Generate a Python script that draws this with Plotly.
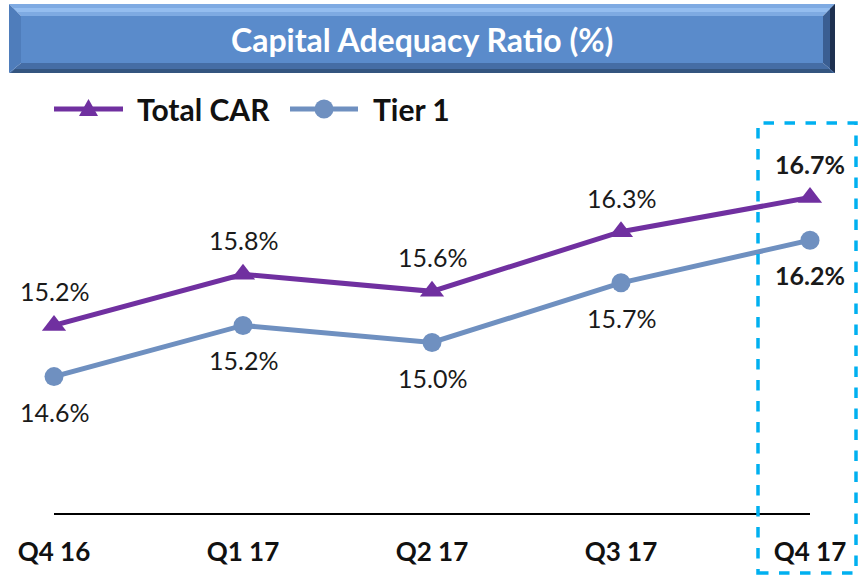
import plotly.graph_objects as go

# ---- data ----
quarters = ["Q4 16", "Q1 17", "Q2 17", "Q3 17", "Q4 17"]
total_car = [15.2, 15.8, 15.6, 16.3, 16.7]
tier1 = [14.6, 15.2, 15.0, 15.7, 16.2]
title_text = "Capital Adequacy Ratio (%)"
series_names = ["Total CAR", "Tier 1"]

# ---- layout helpers (pixel -> paper) ----
W, H = 860, 577
L, R, T, B = 54, 50, 172, 64
pw = W - L - R
ph = H - T - B


def px(x):
    return (x - L) / pw


def py(y):
    return (H - B - y) / ph


PURPLE = "#7030A0"
STEEL = "#6F90C0"
FONT = "Lato"

fig = go.Figure()
fig.add_trace(go.Scatter(
    x=quarters, y=total_car, name=series_names[0], mode="lines+markers",
    line=dict(color=PURPLE, width=5),
    marker=dict(symbol="triangle-up", size=21, color=PURPLE),
    cliponaxis=False, showlegend=False,
))
fig.add_trace(go.Scatter(
    x=quarters, y=tier1, name=series_names[1], mode="lines+markers",
    line=dict(color=STEEL, width=5),
    marker=dict(symbol="circle", size=19, color=STEEL),
    cliponaxis=False, showlegend=False,
))

annotations = []
n = len(quarters)
for i, (q, v) in enumerate(zip(quarters, total_car)):
    t = f"{v:.1f}%"
    if i == n - 1:
        t = f"<b>{t}</b>"
    annotations.append(dict(x=q, y=v, xref="x", yref="y", text=t, showarrow=False,
                            yshift=34, font=dict(family=FONT, size=25, color="#1a1a1a")))
for i, (q, v) in enumerate(zip(quarters, tier1)):
    t = f"{v:.1f}%"
    if i == n - 1:
        t = f"<b>{t}</b>"
    annotations.append(dict(x=q, y=v, xref="x", yref="y", text=t, showarrow=False,
                            yshift=-35, font=dict(family=FONT, size=25, color="#1a1a1a")))

# title text
annotations.append(dict(x=px(422), y=py(40), xref="paper", yref="paper", text=title_text,
                        showarrow=False, xanchor="center", yanchor="middle",
                        font=dict(family=FONT, size=32, color="white", weight="bold")))

# ---- title bar bevel shapes ----
x0, x1, y0, y1, b = 9, 835, 4, 73, 12


def path(pts):
    s = "M " + " L ".join(f"{px(a):.5f},{py(c):.5f}" for a, c in pts) + " Z"
    return s


def poly(pts, col):
    return dict(type="path", xref="paper", yref="paper", line=dict(width=0),
                fillcolor=col, path=path(pts))


shapes = [
    # top bevel (light, two bands)
    poly([(x0, y0), (x1, y0), (x1 - b, y0 + b), (x0 + b, y0 + b)], "#7EAAE2"),
    poly([(x0 + 4, y0 + 4), (x1 - 4, y0 + 4), (x1 - 8, y0 + 8), (x0 + 8, y0 + 8)], "#94BDEF"),
    # bottom bevel (dark)
    poly([(x0, y1), (x1, y1), (x1 - b, y1 - b + 2), (x0 + b, y1 - b + 2)], "#456DA5"),
    poly([(x0 + 2, y1), (x1 - 2, y1), (x1 - 6, y1 - 4), (x0 + 6, y1 - 4)], "#34557F"),
    # left bevel
    poly([(x0, y0), (x0 + b, y0 + b), (x0 + b, y1 - b + 2), (x0, y1)], "#4F7DBB"),
    # right bevel (dark, gradient to near-black edge)
    poly([(x1, y0), (x1 - b, y0 + b), (x1 - b, y1 - b + 2), (x1, y1)], "#3A5E92"),
    poly([(x1, y0), (x1 - 5, y0 + 5), (x1 - 5, y1 - 4), (x1, y1)], "#1E3050"),
    # face
    dict(type="rect", xref="paper", yref="paper", line=dict(width=0), fillcolor="#5A8BCB",
         x0=px(x0 + b), x1=px(x1 - b), y0=py(y1 - b + 2), y1=py(y0 + b)),
    # highlight box
    dict(type="rect", xref="paper", yref="paper",
         line=dict(color="#00B0F0", width=3.5, dash="dash"), fillcolor="rgba(0,0,0,0)",
         x0=px(758), x1=px(856), y0=py(573), y1=py(123)),
]

# ---- legend (drawn manually to match long key lines) ----
LEG_Y = 109
leg = [
    (series_names[0], PURPLE, "triangle", 54, 123, 135),
    (series_names[1], STEEL, "circle", 290, 358, 371),
]
for name, col, sym, lx0, lx1, tx in leg:
    shapes.append(dict(type="line", xref="paper", yref="paper",
                       x0=px(lx0), x1=px(lx1), y0=py(LEG_Y), y1=py(LEG_Y),
                       line=dict(color=col, width=5)))
    cx = (lx0 + lx1) / 2
    if sym == "triangle":
        shapes.append(poly([(cx - 9.5, LEG_Y + 7), (cx + 9.5, LEG_Y + 7), (cx, LEG_Y - 10)], col))
    else:
        r = 9.5
        shapes.append(dict(type="circle", xref="paper", yref="paper", line=dict(width=0),
                           fillcolor=col, x0=px(cx - r), x1=px(cx + r),
                           y0=py(LEG_Y + r), y1=py(LEG_Y - r)))
    annotations.append(dict(x=px(tx), y=py(LEG_Y), xref="paper", yref="paper", text=name,
                            showarrow=False, xanchor="left", yanchor="middle",
                            font=dict(family=FONT, size=30, color="#111111", weight="bold")))

fig.update_layout(
    width=W, height=H,
    margin=dict(l=L, r=R, t=T, b=B, autoexpand=False),
    paper_bgcolor="white", plot_bgcolor="white",
    showlegend=False,
    xaxis=dict(type="category", range=[0, n - 1], showgrid=False, zeroline=False,
               showline=True, linecolor="black", linewidth=2,
               ticks="outside", ticklen=15, tickcolor="rgba(0,0,0,0)",
               tickfont=dict(family=FONT, size=26, color="#111111", weight="bold")),
    yaxis=dict(range=[13, 17], visible=False, showgrid=False, zeroline=False),
    annotations=annotations,
    shapes=shapes,
)

fig.write_html("out.html", config={"displayModeBar": False},
               post_script="document.body.style.margin='0px';document.body.style.overflow='hidden';")
